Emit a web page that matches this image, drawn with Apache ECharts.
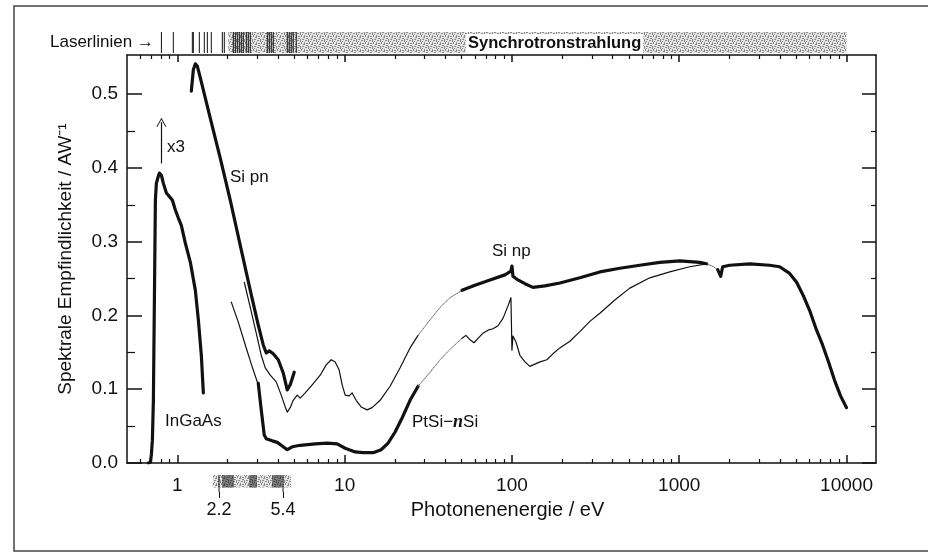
<!DOCTYPE html>
<html>
<head>
<meta charset="utf-8">
<script src="https://cdn.jsdelivr.net/npm/echarts@6.0.0/dist/echarts.min.js"></script>
<style>
  html, body { margin: 0; padding: 0; background: #fff; }
  #chart { width: 928px; height: 552px; }
</style>
</head>
<body>
<div id="chart"></div>
<script>
// Messkurven: [Photonenenergie / eV, Empfindlichkeit / A W^-1]
const ingaas = [[0.671,0],[0.690,0.001],[0.699,0.011],[0.709,0.031],[0.719,0.085],[0.729,0.221],[0.739,0.356],
  [0.749,0.379],[0.770,0.389],[0.781,0.393],[0.803,0.390],[0.825,0.379],[0.860,0.366],[0.883,0.363],[0.934,0.356],
  [0.973,0.343],[1.014,0.332],[1.056,0.322],[1.116,0.298],[1.196,0.272],[1.281,0.234],[1.335,0.194],[1.391,0.146],[1.430,0.095]];
const siPn = [[1.212,0.504],[1.246,0.533],[1.281,0.541],[1.316,0.538],[1.372,0.522],[1.574,0.467],[1.806,0.413],
  [2.072,0.356],[2.377,0.295],[2.728,0.234],[3.045,0.187],[3.262,0.160],[3.399,0.149],[3.543,0.152],[3.743,0.148],
  [4.009,0.140],[4.295,0.122],[4.537,0.099],[4.727,0.106],[4.995,0.123]];
const siNpLow = [[2.512,0.245],[2.728,0.211],[2.962,0.176],[3.173,0.146],[3.353,0.129],[3.592,0.119],[3.899,0.110],
  [4.177,0.092],[4.413,0.076],[4.537,0.069],[4.727,0.075],[4.926,0.085],[5.204,0.092],[5.424,0.088],[5.809,0.095],
  [6.397,0.106],[7.142,0.119],[7.755,0.133],[8.309,0.140],[8.779,0.137],[9.274,0.126],[9.663,0.106],[10.07,0.092],
  [10.64,0.091],[11.09,0.095],[11.71,0.085],[12.55,0.076],[13.62,0.072],[14.59,0.075],[16.29,0.085],[18.69,0.104],
  [21.45,0.129],[24.6,0.156],[27.47,0.173]];
const siNpGap = [[27.47,0.173],[32.4,0.194],[37.2,0.211],[42.6,0.224],[50.3,0.234]];
const siNpHigh = [[50.3,0.234],[60.1,0.241],[73.9,0.248],[90.8,0.255],[98.6,0.260],[100,0.267],[101.4,0.253],
  [107.1,0.249],[119.6,0.243],[133.5,0.238],[157.4,0.240],[193.4,0.244],[254.7,0.251],[335.3,0.259],[441.4,0.264],
  [581,0.268],[765,0.272],[1007,0.274],[1326,0.272],[1459,0.270]];
const siNpGap2 = [[1459,0.270],[1607,0.266],[1698,0.262]];
const siNpTail = [[1698,0.262],[1769,0.253],[1818,0.266],[2002,0.268],[2636,0.270],[3470,0.268],[3981,0.266],
  [4568,0.257],[5030,0.245],[5538,0.226],[6013,0.207],[6622,0.180],[7190,0.160],[7807,0.137],[8480,0.112],
  [9209,0.091],[10000,0.075]];
const ptsiLow = [[2.101,0.218],[2.313,0.191],[2.547,0.160],[2.804,0.130],[3.045,0.106]];
const ptsiThick = [[3.045,0.108],[3.173,0.072],[3.306,0.038],[3.399,0.033],[3.692,0.030],[3.954,0.028],[4.236,0.023],
  [4.537,0.018],[4.861,0.022],[5.424,0.024],[6.668,0.026],[7.862,0.027],[9.02,0.026],[10.07,0.020],[11.55,0.015],
  [12.9,0.014],[14.8,0.014],[16.52,0.018],[18.18,0.027],[20.02,0.042],[22.04,0.061],[24.6,0.085],[27.47,0.104]];
const ptsiGap = [[27.47,0.104],[32.4,0.123],[37.2,0.140],[42.6,0.154],[50.3,0.169]];
const ptsiHigh = [[50.3,0.169],[53.1,0.173],[56.2,0.167],[59.3,0.163],[62.7,0.169],[67.1,0.176],[71.9,0.180],
  [77.0,0.182],[82.5,0.186],[88.4,0.196],[94.7,0.213],[98.6,0.224],[100,0.153],[101.4,0.172],[105.7,0.164],
  [111.6,0.146],[119.6,0.137],[128.1,0.131],[137.2,0.134],[147,0.137],[161.8,0.140],[175.7,0.148],[193.4,0.156],
  [222,0.165],[254.7,0.178],[292.2,0.192],[335.3,0.203],[412,0.221],[506.5,0.237],[666.7,0.251],[877.6,0.259],
  [1155,0.266],[1459,0.270]];

// Achsen
const xMajor = [1, 10, 100, 1000, 10000];
const xMinorMant = [2, 3, 4, 5, 6, 7, 8, 9];
const xMinorLow = [0.6, 0.7, 0.8, 0.9];
const yMajor = [0, 0.1, 0.2, 0.3, 0.4, 0.5];
const yMinor = [0.05, 0.15, 0.25, 0.35, 0.45];

// Lichtquellen oben: Laserlinien und Synchrotronstrahlung (eV)
const laserLines = [0.803, 0.946, 1.229, 1.246, 1.353, 1.449, 1.511, 1.595, 1.857, 1.908,
  2.160, 2.220, 2.282, 2.345, 2.411, 2.477, 2.582, 2.654, 2.728,
  3.446, 3.543, 3.641, 3.743, 4.537, 4.664, 4.793, 4.926, 5.134];
const synchroRange = [2.016, 10000];
// Ausschnitt unten (eigene Skala)
const bandRange = [2.02, 6.04];
const bandLines = [2.327, 2.393, 2.461, 2.531, 2.603, 2.677, 3.400, 3.496, 3.595, 3.697,
  4.693, 4.827, 4.964, 5.105, 5.250];
const bandMarks = [2.2, 5.4];

const xMinor = xMinorLow.slice();
[1, 10, 100, 1000].forEach(function (d) {
  xMinorMant.forEach(function (m) { xMinor.push(m * d); });
});

const FONT = 'Liberation Sans';
const INK = '#111';

function hatch() {
  const c = document.createElement('canvas');
  c.width = 8; c.height = 7;
  const g = c.getContext('2d');
  g.fillStyle = '#e4e4e4';
  g.fillRect(0, 0, 8, 7);
  g.fillStyle = '#8a8a8a';
  g.fillRect(0, 0, 1, 3); g.fillRect(2, 1, 2, 1); g.fillRect(5, 0, 1, 2); g.fillRect(3, 3, 1, 1);
  g.fillRect(4, 4, 1, 3); g.fillRect(1, 5, 2, 1); g.fillRect(6, 4, 2, 1); g.fillRect(7, 2, 1, 1);
  g.fillRect(6, 6, 1, 1); g.fillRect(2, 3, 1, 1);
  return { image: c, repeat: 'repeat' };
}
const hatchFill = hatch();

const chart = echarts.init(document.getElementById('chart'), null, { renderer: 'canvas' });

const logBase = { type: 'log', min: 0.5, max: 15000, splitLine: { show: false } };
const axisLineStyle = { color: INK, width: 1.5 };

function curve(data, kind) {
  const styles = {
    thick: { color: INK, width: 3.2 },
    thin: { color: INK, width: 1.2 },
    dotted: { color: '#666', width: 1, type: 'dotted' }
  };
  return {
    type: 'line', xAxisIndex: 0, yAxisIndex: 0, data: data,
    symbol: 'none', smooth: false, silent: true,
    lineStyle: Object.assign({ cap: 'round', join: 'round' }, styles[kind])
  };
}

function stripe(y0) {
  return function (params, api) {
    const a = api.coord([api.value(0), y0]);
    const b = api.coord([api.value(0), 1]);
    return { type: 'line', shape: { x1: a[0], y1: a[1], x2: b[0], y2: b[1] }, style: { stroke: INK, lineWidth: 1 } };
  };
}

function areaRect(params, api) {
  const a = api.coord([api.value(0), 1]);
  const b = api.coord([api.value(1), 0]);
  return { type: 'rect', shape: { x: a[0], y: a[1], width: b[0] - a[0], height: b[1] - a[1] }, style: { fill: hatchFill } };
}

const option = {
  animation: false,
  backgroundColor: '#fff',
  grid: [
    { left: 127, right: 52, top: 55, bottom: 89 },
    { left: 127, right: 52, top: 32, height: 21 },
    { left: 127, right: 52, top: 475, height: 17 }
  ],
  xAxis: [
    Object.assign({}, logBase, {
      gridIndex: 0, position: 'bottom',
      axisLine: { onZero: false, lineStyle: axisLineStyle },
      axisTick: { inside: true, length: 8, customValues: xMajor, lineStyle: axisLineStyle },
      axisLabel: { customValues: xMajor, margin: 13, fontSize: 19, color: INK, fontFamily: FONT,
        formatter: function (v) { return String(Math.round(v)); } },
      name: 'Photonenenergie / eV', nameLocation: 'middle', nameGap: 37,
      nameTextStyle: { fontSize: 20, color: INK, fontFamily: FONT, padding: [0, 0, 0, 12] }
    }),
    Object.assign({}, logBase, {
      gridIndex: 0, position: 'bottom', axisLine: { show: false, onZero: false },
      axisTick: { inside: true, length: 4, customValues: xMinor, lineStyle: { color: INK, width: 1.2 } },
      axisLabel: { show: false }
    }),
    Object.assign({}, logBase, {
      gridIndex: 0, position: 'top',
      axisLine: { onZero: false, lineStyle: axisLineStyle },
      axisTick: { inside: true, length: 7, customValues: xMajor, lineStyle: axisLineStyle },
      axisLabel: { show: false }
    }),
    Object.assign({}, logBase, {
      gridIndex: 0, position: 'top', axisLine: { show: false, onZero: false },
      axisTick: { inside: true, length: 4, customValues: xMinor, lineStyle: { color: INK, width: 1.2 } },
      axisLabel: { show: false }
    }),
    Object.assign({}, logBase, { gridIndex: 1, show: false }),
    {
      type: 'log', min: 0.605, max: 22180, gridIndex: 2, position: 'bottom',
      axisLine: { show: false, onZero: false }, splitLine: { show: false },
      axisTick: { inside: false, length: 6, customValues: bandMarks, lineStyle: { color: INK, width: 1 } },
      axisLabel: { customValues: bandMarks, margin: 9, fontSize: 18, color: INK, fontFamily: FONT,
        formatter: function (v) { return v.toFixed(1); } }
    }
  ],
  yAxis: [
    {
      type: 'value', gridIndex: 0, min: 0, max: 0.553, position: 'left', splitLine: { show: false },
      axisLine: { show: true, onZero: false, lineStyle: axisLineStyle },
      axisTick: { show: true, inside: true, length: 15, customValues: yMajor, lineStyle: axisLineStyle },
      axisLabel: { customValues: yMajor, margin: 9, fontSize: 19, color: INK, fontFamily: FONT,
        formatter: function (v) { return v.toFixed(1); } },
      name: 'Spektrale Empfindlichkeit / AW⁻¹', nameLocation: 'middle', nameGap: 52, nameRotate: 90,
      nameTextStyle: { fontSize: 19, color: INK, fontFamily: FONT }
    },
    {
      type: 'value', gridIndex: 0, min: 0, max: 0.553, position: 'left', splitLine: { show: false },
      axisLine: { show: false, onZero: false },
      axisTick: { show: true, inside: true, length: 8, customValues: yMinor, lineStyle: { color: INK, width: 1.2 } },
      axisLabel: { show: false }
    },
    {
      type: 'value', gridIndex: 0, min: 0, max: 0.553, position: 'right', splitLine: { show: false },
      axisLine: { show: true, onZero: false, lineStyle: axisLineStyle },
      axisTick: { show: true, inside: true, length: 14, customValues: yMajor, lineStyle: axisLineStyle },
      axisLabel: { show: false }
    },
    {
      type: 'value', gridIndex: 0, min: 0, max: 0.553, position: 'right', splitLine: { show: false },
      axisLine: { show: false, onZero: false },
      axisTick: { show: true, inside: true, length: 5, customValues: yMinor, lineStyle: { color: INK, width: 1.2 } },
      axisLabel: { show: false }
    },
    { type: 'value', gridIndex: 1, min: 0, max: 1, show: false },
    { type: 'value', gridIndex: 2, min: -0.35, max: 1, show: false }
  ],
  series: [
    Object.assign(curve(ingaas, 'thick'), {
      markLine: {
        silent: true, symbol: ['none', 'path://M0,10 L5,0 L10,10 L9,10 L5,2 L1,10 Z'], symbolSize: [10, 9],
        label: { show: false }, lineStyle: { color: INK, width: 1.2, type: 'solid' },
        data: [[{ coord: [0.803, 0.406] }, { coord: [0.803, 0.462] }]]
      }
    }),
    curve(siPn, 'thick'),
    curve(siNpLow, 'thin'),
    curve(siNpGap, 'dotted'),
    curve(siNpHigh, 'thick'),
    curve(siNpGap2, 'dotted'),
    curve(siNpTail, 'thick'),
    curve(ptsiLow, 'thin'),
    curve(ptsiThick, 'thick'),
    curve(ptsiGap, 'dotted'),
    curve(ptsiHigh, 'thin'),
    {
      type: 'custom', xAxisIndex: 4, yAxisIndex: 4, silent: true,
      encode: { x: [0, 1] }, data: [synchroRange], renderItem: areaRect
    },
    {
      type: 'custom', xAxisIndex: 4, yAxisIndex: 4, silent: true,
      encode: { x: 0 }, data: laserLines.map(function (e) { return [e]; }), renderItem: stripe(0)
    },
    {
      type: 'custom', xAxisIndex: 5, yAxisIndex: 5, silent: true,
      encode: { x: [0, 1] }, data: [bandRange], renderItem: areaRect
    },
    {
      type: 'custom', xAxisIndex: 5, yAxisIndex: 5, silent: true,
      encode: { x: 0 }, data: bandLines.map(function (e) { return [e]; }), renderItem: stripe(0)
    },
    {
      type: 'custom', xAxisIndex: 5, yAxisIndex: 5, silent: true,
      encode: { x: 0 }, data: bandMarks.map(function (e) { return [e]; }), renderItem: stripe(-0.35)
    }
  ],
  graphic: [
    { type: 'rect', silent: true, shape: { x: 14, y: 6, width: 1000, height: 545 },
      style: { fill: 'none', stroke: '#444', lineWidth: 1.5 } },
    { type: 'text', silent: true, left: 50, top: 34,
      style: { text: 'Laserlinien →', fontSize: 17, fontFamily: FONT, fill: INK } },
    { type: 'text', silent: true, left: 466, top: 34, z: 10,
      style: { text: 'Synchrotronstrahlung', fontSize: 16.5, fontWeight: 'bold', fontFamily: FONT, fill: INK,
        backgroundColor: '#fff', padding: [1, 2, 2, 2] } },
    { type: 'text', silent: true, left: 167, top: 139,
      style: { text: 'x3', fontSize: 17, fontFamily: FONT, fill: INK } },
    { type: 'text', silent: true, left: 230, top: 169,
      style: { text: 'Si pn', fontSize: 17, fontFamily: FONT, fill: INK } },
    { type: 'text', silent: true, left: 165, top: 413,
      style: { text: 'InGaAs', fontSize: 17, fontFamily: FONT, fill: INK } },
    { type: 'text', silent: true, left: 492, top: 243,
      style: { text: 'Si np', fontSize: 17, fontFamily: FONT, fill: INK } },
    { type: 'text', silent: true, left: 412, top: 413,
      style: {
        text: '{a|PtSi−}{n|n}{a|Si}',
        rich: {
          a: { fontSize: 17, fontFamily: FONT, fill: INK },
          n: { fontSize: 18, fontFamily: 'Liberation Serif', fontStyle: 'italic', fontWeight: 'bold', fill: INK }
        }
      } }
  ]
};

chart.setOption(option);
</script>
</body>
</html>
